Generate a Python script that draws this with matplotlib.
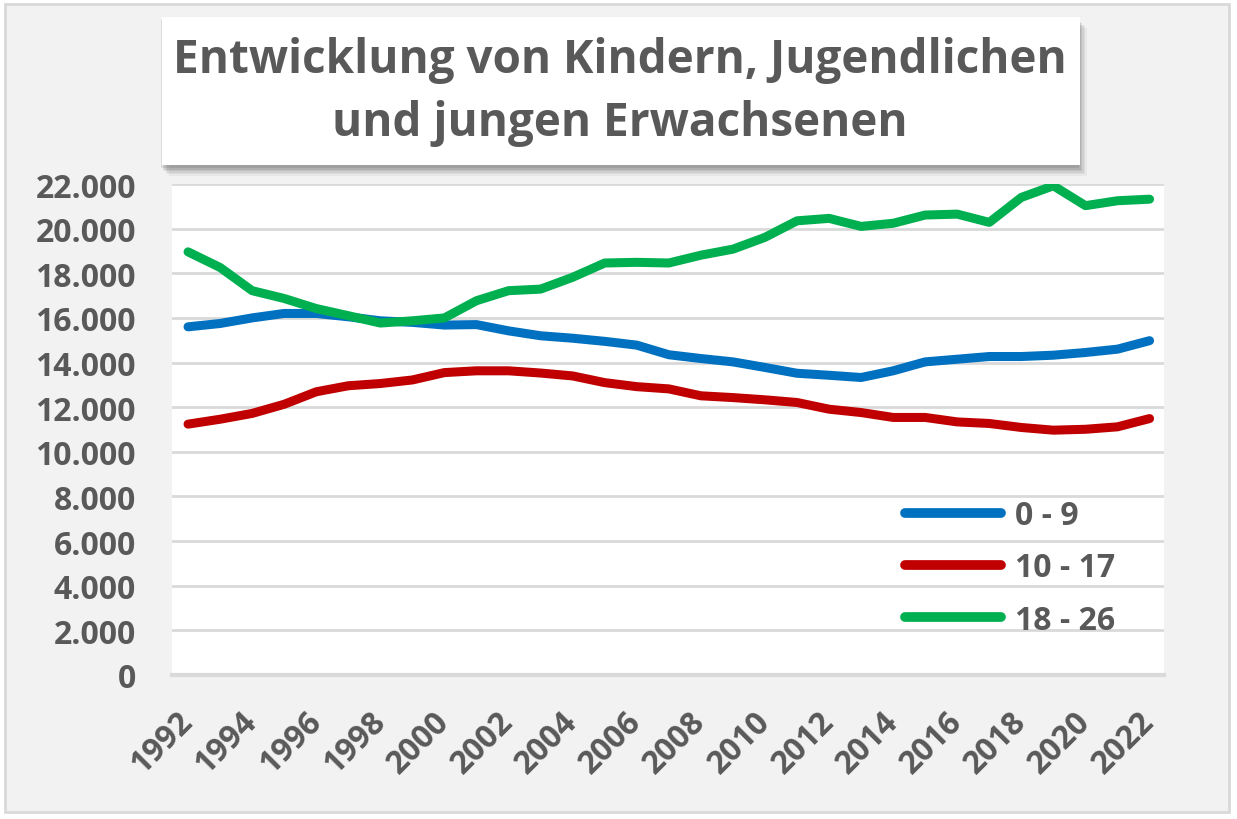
import matplotlib
matplotlib.use("Agg")
import matplotlib.pyplot as plt
from matplotlib.patches import Rectangle

years = list(range(1992, 2023))
age_0_9 = [15600, 15750, 16000, 16200, 16200, 16050, 15870, 15800, 15680, 15700,
           15420, 15200, 15090, 14950, 14780, 14350, 14180, 14030, 13780, 13520,
           13430, 13330, 13630, 14030, 14150, 14270, 14270, 14330, 14450, 14600, 14980]
age_10_17 = [11240, 11460, 11720, 12130, 12690, 12960, 13060, 13220, 13550, 13630,
             13630, 13530, 13400, 13100, 12920, 12820, 12510, 12430, 12330, 12210,
             11910, 11760, 11540, 11540, 11340, 11270, 11090, 10970, 11010, 11120, 11490]
age_18_26 = [18960, 18260, 17220, 16870, 16420, 16100, 15770, 15870, 16000, 16770,
             17220, 17290, 17820, 18460, 18490, 18460, 18810, 19080, 19610, 20350,
             20460, 20100, 20240, 20610, 20650, 20280, 21400, 21920, 21030, 21250, 21320]
series_labels = ["0 - 9", "10 - 17", "18 - 26"]
series_colors = ["#0070C0", "#C00000", "#00B050"]
y_ticks = list(range(0, 22001, 2000))
y_tick_labels = ["0", "2.000", "4.000", "6.000", "8.000", "10.000", "12.000",
                 "14.000", "16.000", "18.000", "20.000", "22.000"]
x_ticks = list(range(1992, 2023, 2))
title = "Entwicklung von Kindern, Jugendlichen\nund jungen Erwachsenen"

W, H = 1237, 820
fig = plt.figure(figsize=(W / 100, H / 100), dpi=100)
fig.patch.set_facecolor("white")

def fx(px):
    return px / W

def fy(py):
    return 1 - py / H

# outer chart background with border
fig.patches.append(Rectangle((fx(5), fy(813)), fx(1229) - fx(5), fy(5) - fy(813),
                             transform=fig.transFigure, facecolor="#f2f2f2",
                             edgecolor="#d9d9d9", linewidth=2, zorder=-5))

TXT = "#595959"
FONT = ["Open Sans", "DejaVu Sans"]

ax = fig.add_axes([fx(172), fy(676), fx(1164) - fx(172), fy(185) - fy(676)])
ax.set_zorder(2)
ax.set_facecolor("white")
ax.set_xlim(1991.5, 2022.45)
ax.set_ylim(0, 22000)
for s in ax.spines.values():
    s.set_visible(False)
ax.set_yticks(y_ticks)
ax.yaxis.grid(True, color="#d9d9d9", linewidth=2)
ax.set_axisbelow(True)
ax.axhline(0, color="#d9d9d9", linewidth=3, zorder=1, clip_on=False)

for vals, lab, col in zip([age_0_9, age_10_17, age_18_26], series_labels, series_colors):
    ax.plot(years, vals, color=col, linewidth=6.5, label=lab,
            solid_capstyle="round", solid_joinstyle="round", zorder=3)

ax.set_yticks(y_ticks)
ax.set_yticklabels(y_tick_labels, fontsize=23, fontweight="bold", color=TXT, family=FONT)
ax.set_xticks(x_ticks)
ax.set_xticklabels([str(x) for x in x_ticks], fontsize=23, fontweight="bold", color=TXT,
                   family=FONT, rotation=45, ha="right", va="center", rotation_mode="anchor")
ax.tick_params(axis="both", length=0)
ax.tick_params(axis="y", pad=26)
ax.tick_params(axis="x", pad=30)

leg = ax.legend(loc="center left", bbox_to_anchor=(fx(905), fy(569)),
                bbox_transform=fig.transFigure, frameon=False,
                prop={"family": FONT, "weight": "bold", "size": 23},
                handlelength=3.0, handletextpad=0.45, labelspacing=0.6,
                borderpad=0, borderaxespad=0)
for t in leg.get_texts():
    t.set_color(TXT)
for h in leg.get_lines():
    h.set_linewidth(7)
    h.set_solid_capstyle("round")

# title box with soft shadow
bx0, by0, bx1, by1 = 162, 18, 1080, 166
for i, a in enumerate([0.04, 0.05, 0.06, 0.07, 0.08, 0.09]):
    off = 11 - i * 1.6
    fig.patches.append(Rectangle((fx(bx0 + off - 4), fy(by1 + off)), fx(bx1) - fx(bx0),
                                 fy(by0) - fy(by1), transform=fig.transFigure,
                                 facecolor="black", edgecolor="none", alpha=a, zorder=4))
fig.patches.append(Rectangle((fx(bx0), fy(by1)), fx(bx1) - fx(bx0), fy(by0) - fy(by1),
                             transform=fig.transFigure, facecolor="white",
                             edgecolor="none", zorder=5))
fig.text(fx(620), fy(92), title, ha="center", va="center", fontsize=33,
         fontweight="bold", color=TXT, family=FONT, linespacing=1.42, zorder=6)

fig.savefig("out.png", dpi=100, facecolor=fig.get_facecolor())
